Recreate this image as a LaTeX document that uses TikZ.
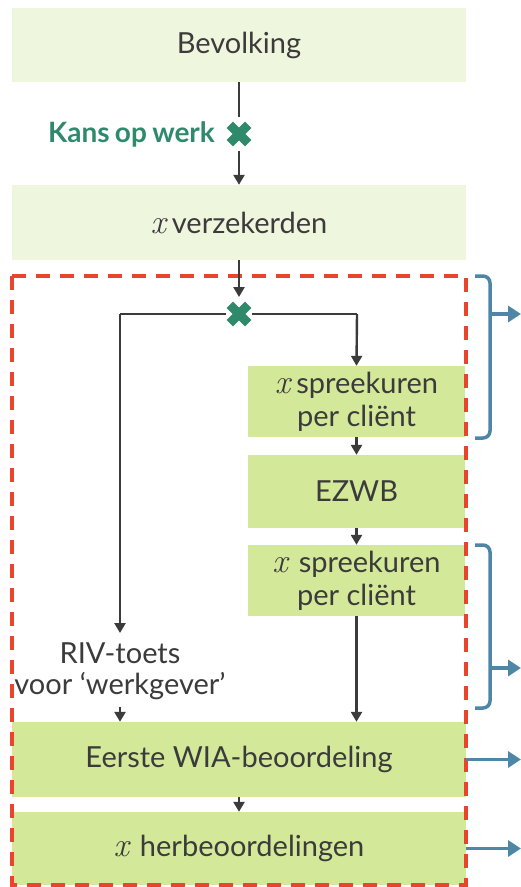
\documentclass[tikz,border=0pt]{standalone}
\usepackage{fontspec}
\setmainfont{Lato}
\newfontfamily\xfont{Latin Modern Roman}
\newcommand{\xvar}{{\xfont\itshape\fontsize{34}{34}\selectfont x}}
\usetikzlibrary{arrows.meta}
\definecolor{txt}{HTML}{3B3B3B}
\definecolor{lightg}{HTML}{EEF6DD}
\definecolor{darkg}{HTML}{D4E89A}
\definecolor{crossg}{HTML}{2F8A6C}
\definecolor{redd}{HTML}{E8452C}
\definecolor{bluea}{HTML}{4E86A5}
\tikzset{
  lightbox/.style={fill=lightg, draw=none, text=txt, font=\fontsize{29}{33}\selectfont, align=center, inner sep=0pt},
  darkbox/.style={fill=darkg, draw=none, text=txt, font=\fontsize{29}{33}\selectfont, align=center, inner sep=0pt},
  conn/.style={draw=txt, line width=2.4pt, -{Triangle[length=10pt,width=11pt]}},
  connl/.style={draw=txt, line width=2.4pt},
  bluearr/.style={draw=bluea, line width=3.5pt, -{Triangle[length=13pt,width=16pt]}},
  bluebr/.style={draw=bluea, line width=3.5pt, rounded corners=7pt},
  plain/.style={text=txt, font=\fontsize{29}{31}\selectfont, align=center, inner sep=0pt},
  crossmark/.pic={
    \fill[crossg, rotate=45] (-13,-4.5) rectangle (13,4.5);
    \fill[crossg, rotate=-45] (-13,-4.5) rectangle (13,4.5);
  }
}
\begin{document}
\begin{tikzpicture}[x=1pt,y=-1pt]
\useasboundingbox (0,0) rectangle (521,887);
% boxes
\node[lightbox, minimum width=454pt, minimum height=74pt] (bev) at (239,45) {Bevolking};
\node[lightbox, minimum width=454pt, minimum height=75pt] (verz) at (239,222.5) {\xvar\hspace{6pt}verzekerden};
\node[darkbox, minimum width=217pt, minimum height=71pt] (sp1) at (356.5,401.5) {\xvar\hspace{6pt}spreekuren\\per cliënt};
\node[darkbox, minimum width=217pt, minimum height=73pt] (ezwb) at (356.5,491.5) {EZWB};
\node[darkbox, minimum width=217pt, minimum height=71pt] (sp2) at (356.5,580.5) {\xvar\hspace{11pt}spreekuren\\per cliënt};
\node[darkbox, minimum width=454pt, minimum height=75pt] (wia) at (239,759.5) {Eerste WIA-beoordeling};
\node[darkbox, minimum width=454pt, minimum height=73pt] (herb) at (239,848.5) {\xvar\hspace{11pt}herbeoordelingen};
\node[plain] (riv) at (120,671) {RIV-toets\\voor ‘werkgever’};
% crosses
\coordinate (c1) at (239,134);
\coordinate (c2) at (239,314);
\pic at (c1) {crossmark};
\pic at (c2) {crossmark};
\node[text=crossg, font=\fontsize{28}{30}\selectfont\bfseries, anchor=east, inner sep=0pt] (kans) at (215,134) {Kans\hspace{-1.5pt} op\hspace{-1.5pt} werk};
% dashed red frame
\draw[redd, line width=3.2pt, dash pattern=on 14pt off 10pt] (12,276) rectangle (466,885);
% connectors
\draw[connl] (bev.south) -- (239,117);
\draw[conn] (239,151) -- (verz.north);
\draw[conn] (verz.south) -- (239,297);
\draw[connl] (226,314) -- (120,314) coordinate (lt);
\draw[conn] (lt) -- (120,633);
\draw[connl] (252,314) -- (357,314) coordinate (rt);
\draw[conn] (rt) -- (sp1.north);
\draw[conn] (sp1.south) -- (ezwb.north);
\draw[conn] (ezwb.south) -- (sp2.north);
\draw[conn] (sp2.south) -- (wia.north -| sp2.south);
\draw[conn] (120,707) -- (wia.north -| riv.south);
\draw[conn] (wia.south) -- (herb.north);
% blue braces
\draw[bluebr] (475,276) -- (490,276) -- (490,438) -- (475,438);
\draw[bluearr] (490,314) -- (521,314);
\draw[bluebr] (475,545) -- (490,545) -- (490,708) -- (475,708);
\draw[bluearr] (490,668) -- (521,668);
\draw[bluearr] (wia.east) -- (521,759.5);
\draw[bluearr] (herb.east) -- (521,848.5);
\end{tikzpicture}
\end{document}
